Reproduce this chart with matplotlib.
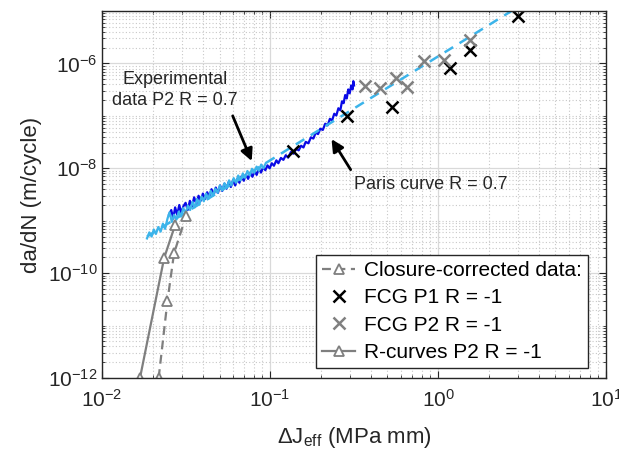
import numpy as np
import matplotlib
matplotlib.use("Agg")
import matplotlib.pyplot as plt
from matplotlib.ticker import LogLocator, NullFormatter

plt.rcParams['font.family'] = ['Liberation Sans', 'DejaVu Sans']
plt.rcParams['mathtext.fontset'] = 'custom'
plt.rcParams['mathtext.rm'] = 'Liberation Sans'
plt.rcParams['mathtext.it'] = 'Liberation Sans'

# experimental data P2 R = 0.7 (dark blue)
exp_dark_x = [0.0250, 0.0258, 0.0265, 0.0272, 0.0280, 0.0288, 0.0296, 0.0305, 0.0314, 0.0323,
              0.0333, 0.0343, 0.0353, 0.0364, 0.0375, 0.0386, 0.0398, 0.0410, 0.0422, 0.0435,
              0.0448, 0.0461, 0.0475, 0.0489, 0.0504, 0.0519, 0.0535, 0.0551, 0.0567, 0.0584,
              0.0602, 0.0620, 0.0638, 0.0657, 0.0677, 0.0697, 0.0718, 0.0740, 0.0762, 0.0785,
              0.0808, 0.0832, 0.0857, 0.0883, 0.0910, 0.0937, 0.0965, 0.0994, 0.1024, 0.1054,
              0.109, 0.112, 0.116, 0.120, 0.124, 0.128, 0.133, 0.138, 0.143, 0.148,
              0.153, 0.158, 0.163, 0.169, 0.175, 0.181, 0.187, 0.193, 0.199, 0.206,
              0.213, 0.220, 0.227, 0.234, 0.241, 0.248, 0.255, 0.262, 0.268, 0.274,
              0.280, 0.286, 0.292, 0.298, 0.304, 0.310, 0.313, 0.316]
exp_dark_y = [1.3e-9, 1.6e-9, 1.1e-9, 1.8e-9, 1.3e-9, 2.0e-9, 1.4e-9, 1.9e-9, 2.2e-9, 1.6e-9,
              2.4e-9, 1.9e-9, 2.8e-9, 2.1e-9, 3.0e-9, 2.4e-9, 3.3e-9, 2.6e-9, 3.5e-9, 2.9e-9,
              4.0e-9, 3.1e-9, 4.3e-9, 3.4e-9, 4.7e-9, 3.7e-9, 5.1e-9, 4.1e-9, 5.5e-9, 4.4e-9,
              6.0e-9, 4.7e-9, 6.3e-9, 5.3e-9, 7.1e-9, 5.8e-9, 7.6e-9, 6.3e-9, 8.2e-9, 6.9e-9,
              8.9e-9, 7.5e-9, 9.8e-9, 8.3e-9, 1.05e-8, 9.2e-9, 1.14e-8, 1.0e-8, 1.25e-8, 1.12e-8,
              1.42e-8, 1.25e-8, 1.58e-8, 1.45e-8, 1.78e-8, 1.6e-8, 2.05e-8, 1.9e-8, 2.35e-8, 2.2e-8,
              2.7e-8, 2.5e-8, 3.2e-8, 3.0e-8, 3.9e-8, 3.7e-8, 4.8e-8, 4.5e-8, 5.7e-8, 5.4e-8,
              7.1e-8, 6.6e-8, 8.8e-8, 8.2e-8, 1.1e-7, 1.02e-7, 1.4e-7, 1.28e-7, 1.9e-7, 1.75e-7,
              2.5e-7, 2.15e-7, 3.2e-7, 2.7e-7, 3.8e-7, 3.2e-7, 4.6e-7, 3.8e-7]

# experimental data, second run (light blue)
exp_light_x = [0.0185, 0.0191, 0.0197, 0.0203, 0.0209, 0.0216, 0.0223, 0.0230, 0.0237, 0.0245,
               0.0252, 0.0260, 0.0268, 0.0277, 0.0286, 0.0295, 0.0304, 0.0314, 0.0324, 0.0334,
               0.0345, 0.0356, 0.0367, 0.0379, 0.0391, 0.0403, 0.0416, 0.0429, 0.0443, 0.0457,
               0.0472, 0.0487, 0.0502, 0.0518, 0.0535, 0.0552, 0.0570, 0.0588, 0.0607, 0.0626,
               0.0646, 0.0667, 0.0688, 0.0710, 0.0733, 0.0756, 0.0780, 0.0805, 0.0831, 0.0857,
               0.0885, 0.0913, 0.0942]
exp_light_y = [4.6e-10, 6.0e-10, 5.0e-10, 6.8e-10, 5.6e-10, 7.6e-10, 6.2e-10, 8.8e-10, 7.0e-10, 1.1e-9,
               1.45e-9, 9.5e-10, 1.3e-9, 1.05e-9, 1.5e-9, 1.2e-9, 1.75e-9, 1.4e-9, 1.95e-9, 1.6e-9,
               2.3e-9, 1.8e-9, 2.6e-9, 2.05e-9, 2.9e-9, 2.35e-9, 3.3e-9, 2.6e-9, 3.7e-9, 3.0e-9,
               4.1e-9, 3.4e-9, 4.7e-9, 3.8e-9, 5.2e-9, 4.2e-9, 5.9e-9, 4.7e-9, 6.5e-9, 5.3e-9,
               7.3e-9, 5.9e-9, 8.0e-9, 6.6e-9, 8.9e-9, 7.3e-9, 9.8e-9, 8.2e-9, 1.08e-8, 9.0e-9,
               1.18e-8, 1.0e-8, 1.25e-8]

# Paris curve R = 0.7 (end points of the straight line in log-log)
paris_x = [0.0185, 2.8]
paris_y = [5.0e-10, 1.05e-5]

# closure-corrected FCG data
fcg_p1_x = [0.136, 0.288, 0.53, 1.18, 1.55, 3.0]
fcg_p1_y = [2.1e-8, 1.0e-7, 1.5e-7, 8.1e-7, 1.8e-6, 7.9e-6]
fcg_p2_x = [0.366, 0.45, 0.56, 0.656, 0.83, 1.08, 1.55]
fcg_p2_y = [3.7e-7, 3.35e-7, 5.3e-7, 3.5e-7, 1.1e-6, 1.16e-6, 2.8e-6]

# R-curves P2 R = -1
rcurve_x = [0.0168, 0.0234, 0.0272]
rcurve_y = [1.0e-12, 1.95e-10, 8.3e-10]
rcurve_corr_x = [0.0217, 0.0245, 0.0268, 0.0316]
rcurve_corr_y = [1.0e-12, 3.0e-11, 2.4e-10, 1.23e-9]

fig = plt.figure(figsize=(6.19, 4.61), dpi=100)
ax = fig.add_axes([0.165, 0.180, 0.814, 0.796])

ax.plot(exp_dark_x, exp_dark_y, color='#0a0ae6', lw=1.6)
ax.plot(exp_light_x, exp_light_y, color='#3cb4ea', lw=1.6)
ax.plot(paris_x, paris_y, color='#3cb4ea', lw=1.8, ls=(0, (4, 3)))

ax.plot(fcg_p1_x, fcg_p1_y, ls='none', marker='x', color='black', ms=9, mew=1.8,
        label='FCG P1 R = -1')
ax.plot(fcg_p2_x, fcg_p2_y, ls='none', marker='x', color='#808080', ms=9, mew=1.8,
        label='FCG P2 R = -1')
ax.plot(rcurve_corr_x, rcurve_corr_y, ls=(0, (4, 2.5)), color='#7f7f7f', lw=1.6, marker='^',
        ms=7.5, mfc='white', mec='#7f7f7f', mew=1.3, label='Closure-corrected data:')
ax.plot(rcurve_x, rcurve_y, ls='-', color='#7f7f7f', lw=1.6, marker='^',
        ms=7.5, mfc='white', mec='#7f7f7f', mew=1.3, label='R-curves P2 R = -1')

ax.set_xscale('log')
ax.set_yscale('log')
ax.set_xlim(1e-2, 1e1)
ax.set_ylim(1e-12, 1e-5)

ax.xaxis.set_major_locator(LogLocator(base=10, numticks=10))
ax.yaxis.set_major_locator(LogLocator(base=100, numticks=10))
ax.xaxis.set_minor_locator(LogLocator(base=10, subs=np.arange(2, 10), numticks=20))
ax.yaxis.set_minor_locator(LogLocator(base=10, subs=np.arange(1, 10), numticks=20))
ax.yaxis.set_minor_formatter(NullFormatter())
ax.xaxis.set_minor_formatter(NullFormatter())

ax.grid(True, which='major', color='#d9d9d9', lw=0.9)
ax.grid(True, which='minor', color='#c8c8c8', lw=0.8, ls=(0, (1, 2)))
ax.set_axisbelow(True)

ax.tick_params(which='both', direction='in', top=True, right=True, labelsize=15, colors='#262626')
ax.tick_params(which='major', length=5)
ax.tick_params(which='minor', length=2.5)
for s in ax.spines.values():
    s.set_color('#262626')
    s.set_linewidth(1.0)
ax.tick_params(axis='x', pad=8)

ax.set_xlabel(r'$\Delta$J$_{\mathrm{eff}}$ (MPa mm)', fontsize=16, color='#262626', labelpad=10)
ax.set_ylabel('da/dN (m/cycle)', fontsize=16, color='#262626')

ax.annotate('', xy=(0.0789, 1.23e-8), xytext=(0.059, 1.12e-7),
            arrowprops=dict(arrowstyle='-|>', color='black', lw=2, mutation_scale=18))
ax.text(0.0272, 3.1e-7, 'Experimental\ndata P2 R = 0.7', ha='center', va='center',
        fontsize=13, color='#262626', linespacing=1.3)
ax.annotate('', xy=(0.2275, 4.0e-8), xytext=(0.308, 8.5e-9),
            arrowprops=dict(arrowstyle='-|>', color='black', lw=2, mutation_scale=18))
ax.text(0.315, 5.0e-9, 'Paris curve R = 0.7', ha='left', va='center',
        fontsize=13, color='#262626')

handles, labels = ax.get_legend_handles_labels()
order = [2, 0, 1, 3]
leg = ax.legend([handles[i] for i in order], [labels[i] for i in order],
                loc='lower right', bbox_to_anchor=(0.964, 0.027), borderaxespad=0,
                fontsize=15, frameon=True, fancybox=False, framealpha=1,
                edgecolor='#262626', handlelength=1.6, handletextpad=0.4,
                borderpad=0.3, labelspacing=0.4)
leg.get_frame().set_linewidth(1.0)

fig.savefig('out.png', dpi=100)
